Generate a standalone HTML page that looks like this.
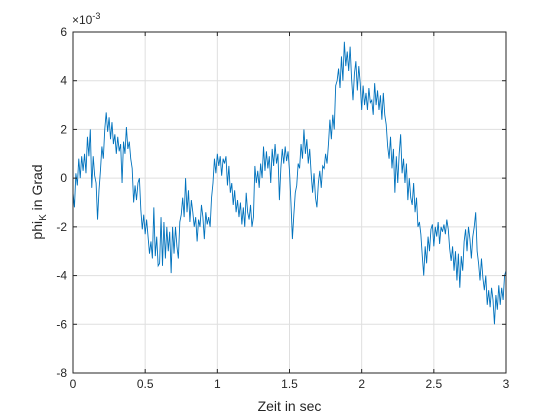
<!DOCTYPE html>
<html><head><meta charset="utf-8"><style>
body{margin:0;background:#fff}
svg{display:block;font-family:"Liberation Sans",sans-serif}
</style></head><body>
<svg id="chart" width="560" height="420" viewBox="0 0 560 420">
<rect x="0" y="0" width="560" height="420" fill="#fff"/>
<g id="grid"></g>
<g id="series"></g>
<rect x="73" y="32" width="433" height="341" fill="none" stroke="#262626" stroke-width="1"/>
<g id="ticks"></g>
<text x="72" y="24" font-size="12" fill="#262626">×10<tspan font-size="9" dy="-5">-3</tspan></text>
<text x="289.5" y="411" font-size="14" text-anchor="middle" fill="#262626">Zeit in sec</text>
<text transform="translate(42,202) rotate(-90)" font-size="14" text-anchor="middle" fill="#262626">phi<tspan font-size="10" dy="4">K</tspan><tspan dy="-4"> in Grad</tspan></text>
</svg>
<script>
const xTicks=[0,0.5,1,1.5,2,2.5,3];
const xTickLabels=["0","0.5","1","1.5","2","2.5","3"];
const yTicks=[-8,-6,-4,-2,0,2,4,6];
const yTickLabels=["-8","-6","-4","-2","0","2","4","6"];
const dt=0.01;
const values=[-0.6,-1.2,0.2,-0.3,0.8,0.0,0.9,0.3,1.0,0.2,1.7,0.9,2.0,-0.4,0.9,0.1,-0.2,-1.7,-0.5,0.3,
1.3,0.8,2.0,2.7,1.9,2.5,1.6,2.3,1.4,1.8,1.0,1.7,1.1,1.4,-0.2,1.5,1.0,2.1,1.2,1.5,
0.8,0.4,-1.0,-0.3,-0.9,-0.2,0.0,-1.3,-2.1,-1.5,-2.3,-1.7,-2.4,-3.1,-2.6,-3.3,-1.2,-3.2,-2.4,-3.6,
-3.5,-1.6,-3.6,-1.8,-3.3,-2.0,-3.0,-2.2,-3.9,-2.0,-3.1,-2.0,-2.8,-3.3,-1.8,-1.5,-0.8,-1.6,0.0,-1.4,
-0.5,-1.8,-0.9,-1.4,-2.0,-1.6,-2.6,-1.7,-2.0,-1.1,-1.6,-2.5,-1.4,-1.9,-1.6,-2.0,-0.8,-0.2,0.8,0.2,
1.0,0.5,0.9,0.1,0.8,0.6,0.9,-0.3,0.5,-0.6,-0.2,-1.1,-0.5,-1.4,-0.9,-1.6,-1.0,-1.9,-1.2,-2.0,
-0.6,-1.4,-1.7,-1.1,-2.0,-1.6,0.5,-0.2,0.3,-0.4,0.6,0.0,1.3,0.3,1.1,0.4,0.9,-0.2,1.2,0.5,
1.4,0.6,1.0,-0.9,0.4,1.2,0.6,1.3,0.7,1.1,0.3,-1.0,-2.5,-1.5,-0.6,-0.3,0.6,0.4,1.4,0.8,
2.0,1.0,1.6,0.6,1.2,0.2,-0.6,0.2,-0.8,-1.2,-0.2,0.3,-0.4,0.5,0.4,1.0,0.6,1.4,2.4,1.6,
2.6,2.0,3.8,4.0,4.5,3.7,5.0,4.0,5.6,4.6,5.2,4.4,5.4,4.1,3.2,4.3,4.8,3.6,4.6,3.9,
2.8,3.8,3.0,3.5,2.8,3.7,3.1,3.2,2.6,3.9,3.0,3.6,2.8,3.4,2.4,3.5,2.6,2.2,1.3,0.8,
1.7,0.4,1.2,-0.6,0.9,-0.2,1.0,1.8,0.2,0.8,-0.2,0.6,-0.9,0.0,-0.8,-1.1,-0.2,-1.4,-0.8,-2.0,
-1.8,-2.3,-3.2,-4.0,-2.8,-3.5,-2.4,-3.0,-2.1,-1.9,-2.8,-2.0,-2.4,-1.8,-2.7,-2.0,-2.2,-1.9,-2.3,-1.7,
-2.1,-2.9,-3.4,-2.8,-3.8,-3.0,-4.2,-3.1,-4.5,-3.2,-3.8,-2.6,-2.1,-3.0,-2.0,-2.5,-3.3,-2.4,-2.0,-1.4,
-3.0,-3.5,-4.2,-3.3,-4.1,-4.6,-4.0,-5.2,-4.6,-5.3,-4.5,-5.0,-6.0,-4.8,-5.4,-4.4,-5.2,-4.5,-5.0,-4.0,-3.8];
const X0=73,X1=506,Y0=373,Y1=32;
function xs(t){return X0+(t-0)/(3-0)*(X1-X0);}
function ys(v){return Y0-(v-(-8))/(6-(-8))*(Y0-Y1);}
const NS="http://www.w3.org/2000/svg";
const grid=document.getElementById('grid'),ticks=document.getElementById('ticks'),series=document.getElementById('series');
function mk(tag,attrs,parent){const e=document.createElementNS(NS,tag);for(const k in attrs)e.setAttribute(k,attrs[k]);parent.appendChild(e);return e;}
xTicks.forEach((t,i)=>{const x=xs(t);
 const g=mk('line',{x1:x,x2:x,y1:Y1,y2:Y0,stroke:'#dfdfdf','stroke-width':1},grid);
 
 
 mk('line',{x1:x,x2:x,y1:Y0,y2:Y0-4,stroke:'#262626'},ticks);
 mk('line',{x1:x,x2:x,y1:Y1,y2:Y1+4,stroke:'#262626'},ticks);
 const tx=mk('text',{x:x,y:Y0+15,'font-size':12,'text-anchor':'middle',fill:'#262626'},ticks);
 tx.textContent=xTickLabels[i];
 
 
});
yTicks.forEach((v,i)=>{const y=ys(v);
 const g=mk('line',{x1:X0,x2:X1,y1:y,y2:y,stroke:'#dfdfdf','stroke-width':1},grid);
 
 
 mk('line',{x1:X0,x2:X0+4,y1:y,y2:y,stroke:'#262626'},ticks);
 mk('line',{x1:X1,x2:X1-4,y1:y,y2:y,stroke:'#262626'},ticks);
 const tx=mk('text',{x:X0-6,y:y+4,'font-size':12,'text-anchor':'end',fill:'#262626'},ticks);
 tx.textContent=yTickLabels[i];
 
 
});
const pts=values.map((v,i)=>xs(i*dt).toFixed(2)+','+ys(v).toFixed(2)).join(' ');
const pl=mk('polyline',{points:pts,fill:'none',stroke:'#0072BD','stroke-width':0.9,'stroke-linejoin':'miter'},series);


</script>
</body></html>
